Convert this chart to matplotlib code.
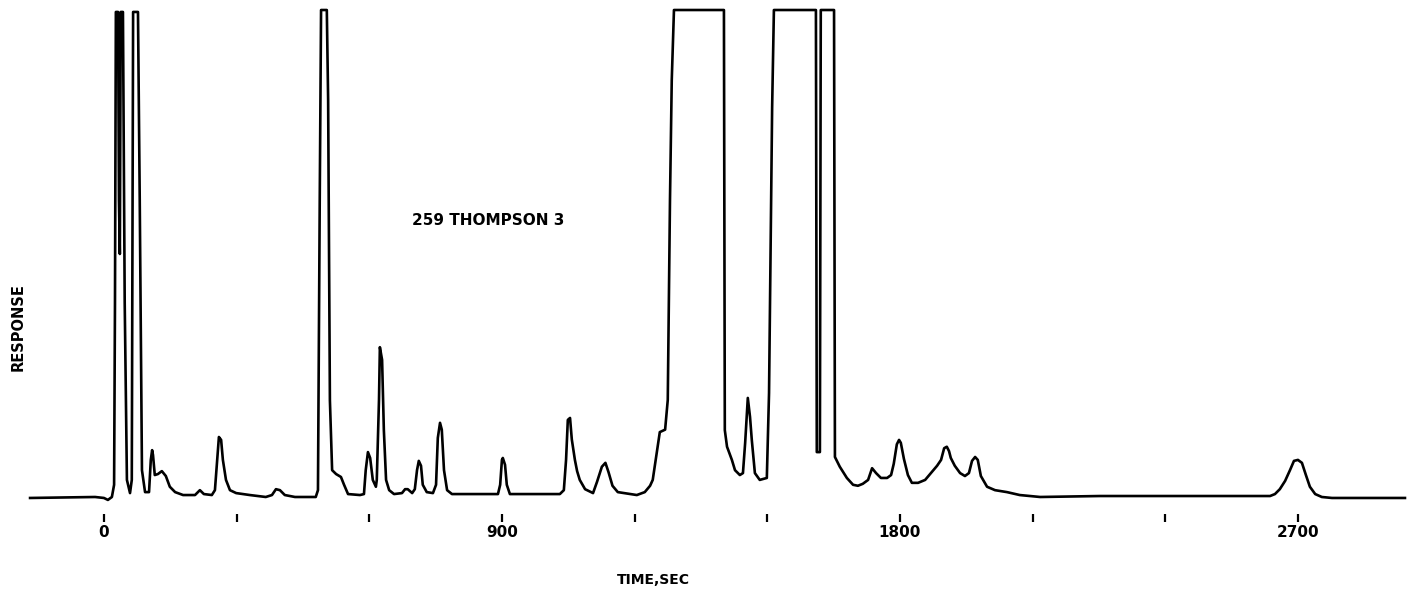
"""
Chromatogram trace, sample 259 THOMPSON 3.
"""

import matplotlib
matplotlib.use("Agg")
import matplotlib.pyplot as plt

# Trace: retention time (sec) and response (% of full scale)
time_sec = [
    -167, -20, 0, 9, 18, 23,
    25, 27, 32, 34, 36,
    38, 43, 47, 52, 59,
    63, 66, 77, 81, 86, 93, 102,
    106, 109, 111, 115, 122, 131, 140, 149, 161, 179, 206, 217, 226, 244,
    251, 256, 260, 265, 269, 276, 285, 299, 330, 366, 380, 389, 398, 409,
    432, 479,
    484, 488, 491, 504, 507, 511, 516, 525, 536, 543, 552, 579, 588,
    592, 597, 602, 608, 615, 617, 622, 624, 629, 633, 638, 645, 656, 674,
    681, 687, 697, 703, 708, 712, 717, 721, 730, 744, 751, 755, 760, 764,
    769, 776, 787, 891,
    896, 900, 902, 907, 911, 918, 1031,
    1040, 1045, 1049, 1054, 1058, 1065, 1070, 1076, 1088, 1106,
    1115, 1126, 1134, 1141, 1150, 1162, 1205, 1223, 1235, 1241, 1248, 1257,
    1269, 1275, 1280, 1284, 1289, 1402,
    1404, 1409, 1420, 1427, 1438, 1445, 1450, 1456, 1461, 1465, 1472, 1483,
    1499, 1504, 1511, 1515, 1610,
    1612, 1619, 1621, 1651, 1653, 1664, 1680, 1694, 1705, 1716, 1728, 1737,
    1746, 1757, 1771, 1780, 1786, 1793, 1798, 1802, 1809, 1818, 1827, 1841,
    1857, 1870, 1884, 1893, 1900, 1906, 1911, 1915, 1924, 1936, 1947, 1956,
    1963, 1970, 1976, 1983, 1997, 2015, 2042, 2071, 2117, 2252, 2479, 2637,
    2648, 2659, 2671, 2682, 2691, 2700, 2709, 2718, 2727, 2739, 2754, 2777,
    2942,
]
response = [
    0, 0.2, 0, -0.4, 0.2, 2.7,
    40, 99.6, 99.6, 61, 50,
    99.6, 99.6, 40, 3.7, 1.0,
    3.7, 99.6, 99.6, 61, 5.7, 1.2, 1.2,
    7.8, 9.8, 8.8, 4.7, 4.9, 5.5, 4.5, 2.3, 1.2, 0.6, 0.6, 1.6, 0.8, 0.6,
    1.6, 7.8, 12.5, 11.9, 7.8, 3.7, 1.6, 1.0, 0.6, 0.2, 0.6, 1.8, 1.6, 0.6,
    0.2, 0.2,
    1.6, 61, 100, 100, 81.6, 20, 5.7, 4.9, 4.3, 2.7, 0.8, 0.6, 0.8,
    5.7, 9.4, 8.2, 3.7, 2.3, 3.7, 20.1, 30.9, 28.3, 13.9, 3.7, 1.6, 0.8, 1.0,
    1.8, 1.8, 1.0, 1.8, 5.7, 7.6, 6.6, 2.7, 1.2, 1.0, 2.7, 12.3, 15.4, 14,
    5.7, 1.6, 0.8, 0.8,
    2.7, 7.8, 8.2, 6.8, 2.7, 0.8, 0.8,
    1.6, 7.8, 16.0, 16.4, 12, 7.8, 5.5, 3.7, 1.8, 1.0,
    3.3, 6.4, 7.2, 5.3, 2.5, 1.2, 0.6, 1.2, 2.5, 3.7, 8.0, 13.5,
    14, 20.1, 61, 85.6, 100, 100,
    13.9, 10.5, 7.8, 5.7, 4.7, 5.1, 11.3, 20.5, 16.6, 11.9, 5.1, 3.7,
    4.1, 21.5, 80, 100, 100,
    9.4, 9.4, 100, 100, 8.4, 6.4, 4.1, 2.7, 2.5, 2.9, 3.7, 6.1,
    5.1, 4.1, 4.1, 4.7, 7, 11, 11.9, 11.3, 8, 4.7, 3.1, 3.1,
    3.7, 5.1, 6.6, 7.8, 10.2, 10.5, 9.6, 8.2, 6.6, 5.1, 4.5, 5.1,
    7.6, 8.4, 7.8, 4.5, 2.3, 1.6, 1.2, 0.6, 0.2, 0.4, 0.4, 0.4,
    0.8, 1.8, 3.5, 5.7, 7.6, 7.8, 7.2, 4.7, 2.3, 0.8, 0.2, 0,
    0,
]

tick_values = [0, 300, 600, 900, 1200, 1500, 1800, 2100, 2400, 2700]
tick_labels = ["0", "", "", "900", "", "", "1800", "", "", "2700"]

sample_name = "259 THOMPSON 3"

# Figure
fig = plt.figure(figsize=(14.2, 5.92), dpi=100)
ax = fig.add_axes([0.0, 0.1318, 1.0, 0.8682])

ax.plot(time_sec, response, color="black", lw=1.9, solid_joinstyle="round")

ax.set_xlim(-235, 2976)
ax.set_ylim(-3.28, 102.05)

for side in ["top", "right", "left", "bottom"]:
    ax.spines[side].set_visible(False)
ax.set_yticks([])
ax.set_xticks(tick_values)
ax.set_xticklabels(tick_labels, fontsize=11, fontweight="bold")
ax.tick_params(axis="x", direction="out", length=6, width=1.6, pad=2,
               color="black")

fig.text(0.344, 0.627, sample_name, ha="center", va="center",
         fontsize=11, fontweight="bold")
fig.text(0.0127, 0.448, "RESPONSE", ha="center", va="center",
         rotation=90, fontsize=10.5, fontweight="bold")
fig.text(0.46, 0.02, "TIME,SEC", ha="center", va="center",
         fontsize=10, fontweight="bold")

fig.savefig("out.png", dpi=100, facecolor="white")
